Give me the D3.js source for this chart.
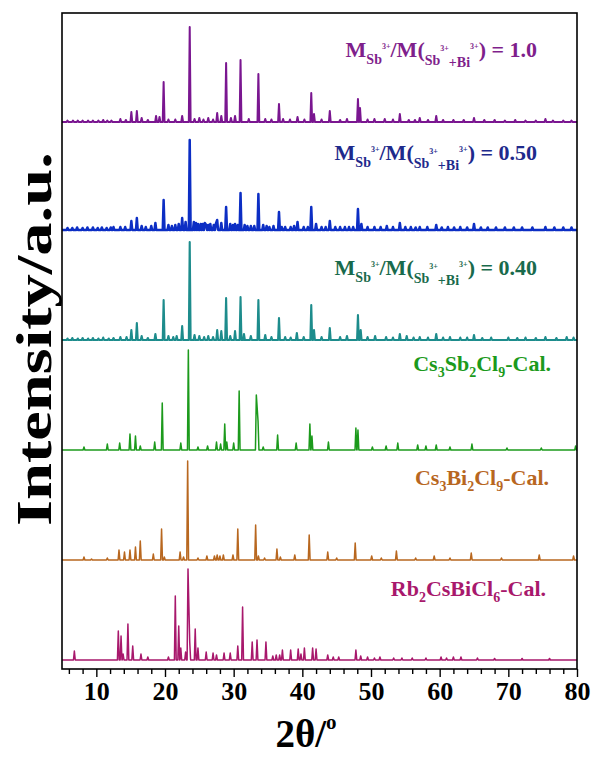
<!DOCTYPE html>
<html>
<head>
<meta charset="utf-8">
<script src="https://cdnjs.cloudflare.com/ajax/libs/d3/7.8.5/d3.min.js"></script>
<style>
  body { margin: 0; background: #fff; }
  svg { display: block; }
  text { font-family: "Liberation Serif", "Times New Roman", serif; font-weight: bold; }
</style>
</head>
<body>
<svg id="chart"></svg>
<script>
// peak lists: [2theta, intensity]
var rbPeaks = [[6.8,9],[13.2,29],[13.6,24],[13.9,6],[14.6,36],[15.3,14],[16.5,6],[17.5,3],[20.5,3],[21.5,64],[22.0,34],[22.3,12],[23.0,8],[23.35,91],[23.6,18],[24.4,31],[24.8,12],[26.0,8],[27.0,7],[27.5,5],[28.6,7],[29.5,7],[30.6,14],[31.3,53],[32.7,18],[33.4,20],[34.7,18],[35.7,4],[36.2,5],[36.7,5],[37.1,10],[38.3,10],[39.4,11],[39.8,6],[40.3,12],[41.5,12],[42.0,11],[43.7,5],[44.5,3],[45.3,3],[47.8,10],[48.5,4],[49.5,3],[50.5,2],[51.3,3],[53.3,2],[54.5,2],[56,2],[58,2],[60.2,3],[61,2],[62,3],[63.1,3],[65.5,2],[68,1.5],[72,1.5],[76,1.5]];
var biPeaks = [[8.2,3],[9.3,1],[11.6,2],[13.3,10],[14.1,8],[14.9,10],[15.7,13],[16.4,19],[18.3,6],[19.5,31],[19.9,3],[22.2,8],[22.7,3],[23.3,99],[24.8,2],[26.1,4],[27.2,4],[27.6,5],[28.0,4],[28.5,5],[29.9,5],[30.6,31],[33.2,35],[33.6,4],[34.5,2],[36.3,11],[36.8,3],[38.9,5],[41.0,25],[43.7,8],[45.0,2],[47.7,17],[50.1,4],[51.5,2],[53.7,9],[56.5,2],[59.2,4],[61.5,2],[64.6,7],[69.0,2],[74.5,5],[79.5,4]];
var sbPeaks = [[8.2,3],[11.6,6],[13.4,7],[14.9,16],[15.7,14],[16.4,4],[18.5,8],[19.6,47],[22.3,7],[23.4,100],[24.8,3],[26.2,4],[27.5,8],[28.1,6],[28.7,26],[29.0,8],[30.0,7],[30.8,59],[33.3,55],[33.55,29],[34.3,3],[36.4,15],[39.1,7],[41.1,26],[41.4,14],[43.8,8],[47.8,22],[48.1,20],[50.2,3],[52.2,4],[53.9,7],[56.8,5],[58,4],[59.5,5],[61.5,3],[64.7,6],[69.8,2],[74.8,2],[79.8,4]];
var x40Peaks = [[5.8,1.5],[6.5,2],[7.3,1.5],[8.0,2],[8.8,1.5],[9.5,2],[10.3,1.5],[11,2.5],[11.8,1.5],[12.5,2],[13.5,3],[14.4,3],[15.1,10],[15.9,17],[16.6,4],[17.5,2],[18.6,6],[19.8,40],[20.5,4],[21.2,3],[21.7,4],[22.5,14],[23.6,98],[24.3,5],[25,4],[25.7,3],[26.3,4],[27.0,3],[27.6,10],[28.2,9],[28.9,42],[29.5,4],[30.2,9],[31.0,43],[31.5,6],[32.5,4],[33.6,40],[34.6,5],[35.5,3],[36.6,22],[37.5,3],[38.3,2.5],[39.2,7],[40.2,3],[41.3,35],[41.7,10],[42.8,3],[44.0,12],[45.5,3],[46.5,4],[48.1,25],[48.5,10],[49.5,3],[50.6,4],[52.2,3],[53.2,2.5],[54.2,6],[55.2,4],[56.2,2.5],[57.1,3],[58.3,2.5],[59.5,6],[60.5,2.5],[61.5,3],[63,2.5],[64,2.5],[65.0,5],[66.2,2],[67.5,2.5],[70,2.5],[71.3,2],[72.5,2.5],[74,2],[75.4,3],[77,2],[78.5,3],[79.5,2.5]];
var x50Peaks = [[5.8,2],[6.5,2],[7.2,2.5],[8,2],[8.7,2.5],[9.5,2.5],[10.2,2],[10.8,2.5],[11.5,2],[12.1,2.5],[12.5,3],[13.5,3],[14.2,3],[15.1,9],[15.9,12],[16.6,4],[17.2,3],[18.0,4],[18.6,7],[19.8,30],[20.5,5],[21.0,4],[21.5,5],[22.0,6],[22.5,12],[23.0,8],[23.6,90],[24.2,8],[24.5,7],[24.8,6],[25.2,6],[25.5,6],[25.8,7],[26.0,5],[26.3,5],[26.6,6],[27.1,5],[27.4,6],[27.6,10],[28.2,7],[28.9,23],[29.5,6],[29.9,5],[30.2,6],[30.6,5],[31.0,37],[31.6,5],[32.0,4],[32.5,4],[33.0,4],[33.6,36],[34.3,5],[34.8,4],[35.2,3],[35.8,4],[36.6,18],[37.0,3],[37.5,3],[38.3,3],[38.8,4],[39.3,8],[40.2,3],[40.8,3],[41.3,23],[42.0,6],[42.8,3],[43.4,3],[44.0,9],[44.8,3],[45.5,3],[46.2,3],[46.8,3],[47.4,3],[48.1,21],[48.6,6],[49.5,3],[50.5,3],[51.4,3],[52.3,4],[53.2,3],[54.2,7],[55.0,3],[55.8,3],[56.5,2.5],[57.1,3],[58.2,3],[59.5,5],[60.3,2.5],[61.2,3],[62.1,2.5],[63,3],[64,2.5],[65.0,6],[66,2.5],[67,2.5],[68.2,2.5],[69.5,2.5],[70.8,2.5],[72,2.5],[73.5,2.5],[75.4,3],[76.7,2.5],[78,2.5],[79.2,2.5]];
var x100Peaks = [[5.8,1.5],[6.6,1.5],[7.3,1.5],[8.0,1.5],[8.8,1.5],[9.5,1.5],[10.3,1.5],[11,2],[11.6,1.5],[12.2,1.5],[13.5,3],[14.3,2],[15.1,10],[15.9,11],[16.6,4],[17.5,2],[18.7,6],[19.2,5],[19.8,40],[20.5,2.5],[21.5,2.5],[22.5,6],[23.6,95],[24.3,3],[25.0,4],[25.6,2.5],[26.3,4],[27.0,2.5],[27.6,9],[28.2,6],[28.9,59],[29.6,4],[30.2,6],[31.0,62],[32.2,3],[33.6,48],[34.6,3],[35.5,2.5],[36.6,18],[37.2,3],[38.2,2.5],[39.3,5],[40.3,2.5],[41.3,29],[41.7,8],[42.8,2.5],[44.0,11],[45.5,2],[46.5,3],[48.1,23],[48.4,14],[49.5,2.5],[50.5,3],[52.0,3],[53.2,2.5],[54.2,8],[55.5,2],[56.4,2],[57.1,4],[58.3,2],[59.5,6],[60.5,2],[62.0,2],[63.5,2],[65.0,4],[66.5,2],[68,2],[69.5,1.5],[71,2],[72.5,1.5],[74,1.5],[75.4,3],[76.5,1.5],[78,1.5],[79.2,1.5]];

var seriesPeaks = [rbPeaks, biPeaks, sbPeaks, x40Peaks, x50Peaks, x100Peaks];
var seriesOffsets = [0, 100, 210, 320, 430, 538];
var lineColors = ["#a8186c", "#b8671f", "#1c9a1c", "#1d8c8c", "#0c2ec4", "#7a1690"];
var lineWidths = [1.5, 1.5, 1.5, 2.1, 2.5, 2.0];
var textColors = ["#a8186c", "#b8671f", "#1c9a1c", "#196a4c", "#1e2a8c", "#7f1f8c"];

var xTicksMajor = [10, 20, 30, 40, 50, 60, 70, 80];
var xTicksMinor = [6, 8, 12, 14, 16, 18, 22, 24, 26, 28, 32, 34, 36, 38, 42, 44, 46, 48, 52, 54, 56, 58, 62, 64, 66, 68, 72, 74, 76, 78];

// label pieces: [text, size, baseline shift]
var labelParts = [
  [["Rb", 22, 0], ["2", 14, 6], ["CsBiCl", 22, 0], ["6", 14, 6], ["-Cal.", 22, 0]],
  [["Cs", 22, 0], ["3", 14, 6], ["Bi", 22, 0], ["2", 14, 6], ["Cl", 22, 0], ["9", 14, 6], ["-Cal.", 22, 0]],
  [["Cs", 22, 0], ["3", 14, 6], ["Sb", 22, 0], ["2", 14, 6], ["Cl", 22, 0], ["9", 14, 6], ["-Cal.", 22, 0]],
  [["M", 22, 0], ["Sb", 14, 7], ["3+", 8, -8], ["/M(", 22, 0], ["Sb", 14, 8], ["3+", 8, -6], ["+Bi", 14, 10], ["3+", 8, -8], [") = 0.40", 22, 0]],
  [["M", 22, 0], ["Sb", 14, 7], ["3+", 8, -8], ["/M(", 22, 0], ["Sb", 14, 8], ["3+", 8, -6], ["+Bi", 14, 10], ["3+", 8, -8], [") = 0.50", 22, 0]],
  [["M", 22, 0], ["Sb", 14, 7], ["3+", 8, -8], ["/M(", 22, 0], ["Sb", 14, 8], ["3+", 8, -6], ["+Bi", 14, 10], ["3+", 8, -8], [") = 1.0", 22, 0]]
];
var labelX = [546, 549, 551, 537, 537, 537];
var labelY = [596, 485, 371, 275, 160, 57];

var width = 597, height = 762;
var mLeft = 62, mRight = 577, mTop = 13, mBottom = 669;

var svg = d3.select("#chart").attr("width", width).attr("height", height);

var x = d3.scaleLinear().domain([5, 80]).range([mLeft, mRight]);
var y = d3.scaleLinear().domain([-9, 647]).range([mBottom, mTop]);

var hw = 0.13;
function profile(peaks) {
  var sorted = peaks.slice().sort(function(a, b) { return a[0] - b[0]; });
  var pts = [[5, 0]];
  sorted.forEach(function(p, i) {
    var prev = sorted[i - 1], next = sorted[i + 1];
    if (!prev || prev[0] + hw < p[0] - hw) pts.push([p[0] - hw, 0]);
    pts.push([p[0], p[1]]);
    if (!next || next[0] - hw > p[0] + hw) pts.push([p[0] + hw, 0]);
  });
  pts.push([80, 0]);
  return pts;
}

svg.append("clipPath").attr("id", "plotclip")
  .append("rect").attr("x", mLeft).attr("y", mTop).attr("width", mRight - mLeft).attr("height", mBottom - mTop);

var plot = svg.append("g").attr("clip-path", "url(#plotclip)");

seriesPeaks.forEach(function(peaks, i) {
  var off = seriesOffsets[i];
  var line = d3.line()
    .x(function(d) { return x(d[0]); })
    .y(function(d) { return y(d[1] + off); });
  plot.append("path")
    .datum(profile(peaks))
    .attr("d", line)
    .attr("fill", "none")
    .attr("stroke", lineColors[i])
    .attr("stroke-width", lineWidths[i])
    .attr("stroke-linejoin", "round");
});

// frame
svg.append("rect")
  .attr("x", mLeft).attr("y", mTop)
  .attr("width", mRight - mLeft).attr("height", mBottom - mTop)
  .attr("fill", "none").attr("stroke", "#000").attr("stroke-width", 1.6);

// bottom axis
var xAxis = d3.axisBottom(x).tickValues(xTicksMajor).tickSize(8).tickSizeOuter(0).tickPadding(5);
var gx = svg.append("g").attr("transform", "translate(0," + mBottom + ")").call(xAxis);
gx.select(".domain").remove();
gx.selectAll(".tick line").attr("stroke", "#000").attr("stroke-width", 1.4);
gx.selectAll(".tick text")
  .attr("font-family", "Liberation Serif, serif")
  .attr("font-weight", "bold")
  .attr("font-size", 26)
  .attr("fill", "#000");

var xMinor = d3.axisBottom(x).tickValues(xTicksMinor).tickSize(5).tickSizeOuter(0).tickFormat("");
var gm = svg.append("g").attr("transform", "translate(0," + mBottom + ")").call(xMinor);
gm.select(".domain").remove();
gm.selectAll(".tick line").attr("stroke", "#000").attr("stroke-width", 1.4);

// series labels
labelParts.forEach(function(parts, i) {
  var t = svg.append("text")
    .attr("x", labelX[i]).attr("y", labelY[i])
    .attr("text-anchor", "end")
    .attr("fill", textColors[i]);
  var cur = 0;
  parts.forEach(function(p) {
    t.append("tspan")
      .attr("font-size", p[1])
      .attr("dy", p[2] - cur)
      .text(p[0]);
    cur = p[2];
  });
});

// axis titles
var xt = svg.append("text")
  .attr("x", 306).attr("y", 747)
  .attr("text-anchor", "middle")
  .attr("font-size", 39)
  .attr("fill", "#000");
xt.append("tspan").text("2θ/");
xt.append("tspan").attr("font-size", 21).attr("dy", -18).text("o");

svg.append("text")
  .attr("transform", "translate(51,339) rotate(-90)")
  .attr("text-anchor", "middle")
  .attr("font-size", 50)
  .attr("textLength", 374)
  .attr("lengthAdjust", "spacingAndGlyphs")
  .attr("fill", "#000")
  .text("Intensity/a.u.");
</script>
</body>
</html>
